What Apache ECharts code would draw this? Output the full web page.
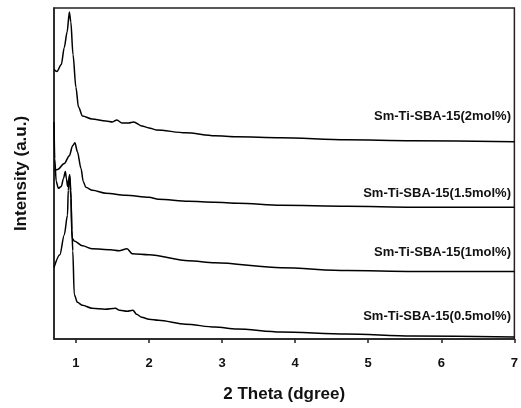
<!DOCTYPE html>
<html>
<head>
<meta charset="utf-8">
<script src="https://cdn.jsdelivr.net/npm/echarts@6/dist/echarts.min.js"></script>
<style>
  html, body { margin: 0; padding: 0; background: #fff; }
  #chart { width: 521px; height: 408px; }
</style>
</head>
<body>
<div id="chart"></div>
<script>
// 2 theta positions and intensities (a.u.)
const x2mol = [0.70, 0.74, 0.80, 0.84, 0.88, 0.91, 0.93, 0.96, 1.00, 1.035, 1.09, 1.22, 1.41, 1.50, 1.56, 1.63, 1.72, 1.79, 1.90, 2.00, 2.10, 2.5, 2.9, 3.2, 3.8, 4.7, 5.6, 7.0];
const y2mol = [272, 270, 277, 294, 310, 330, 320, 287, 254, 234, 225, 222, 220, 219, 221, 218, 218, 219, 215, 213, 211, 208, 205, 204, 203, 201, 200, 199];

const x15mol = [0.70, 0.75, 0.84, 0.91, 0.955, 0.986, 1.02, 1.07, 1.10, 1.136, 1.226, 1.41, 1.68, 2.0, 2.13, 2.54, 2.9, 3.22, 3.81, 4.71, 5.62, 7.0];
const y15mol = [170, 171, 177, 185, 195, 198, 189, 172, 159, 153, 150, 147, 145, 143, 141, 139, 138, 137, 135, 134, 133, 133];

const x1mol = [0.70, 0.71, 0.73, 0.76, 0.80, 0.83, 0.855, 0.87, 0.886, 0.90, 0.913, 0.932, 0.946, 0.977, 1.09, 1.225, 1.475, 1.59, 1.70, 1.77, 2.0, 2.54, 2.9, 3.81, 4.71, 5.62, 7.0];
const y1mol = [219, 182, 159, 152, 154, 162, 169, 162, 154, 160, 165, 142, 102, 99, 94, 91, 90, 89, 91, 86, 85, 79, 77, 72, 69, 68, 68];

const x05mol = [0.70, 0.78, 0.84, 0.885, 0.895, 0.915, 0.93, 0.945, 0.957, 0.977, 1.02, 1.09, 1.22, 1.40, 1.54, 1.60, 1.70, 1.78, 1.83, 1.90, 2.0, 2.13, 2.5, 2.9, 3.2, 3.8, 4.7, 5.6, 7.0];
const y05mol = [72, 85, 105, 125, 150, 166, 150, 110, 89, 45, 37, 34, 31, 30, 31, 29, 28, 29, 25, 22, 20, 19, 15, 12, 10, 7, 5, 3, 2];

const names = ['Sm-Ti-SBA-15(2mol%)', 'Sm-Ti-SBA-15(1.5mol%)', 'Sm-Ti-SBA-15(1mol%)', 'Sm-Ti-SBA-15(0.5mol%)'];
const xTicks = [1, 2, 3, 4, 5, 6, 7];

const pairs = (xs, ys) => xs.map((x, i) => [x, ys[i]]);
const curves = [pairs(x2mol, y2mol), pairs(x15mol, y15mol), pairs(x1mol, y1mol), pairs(x05mol, y05mol)];

const font = "'Liberation Sans', Arial, sans-serif";
const ink = '#111';

const chart = echarts.init(document.getElementById('chart'));
chart.setOption({
  animation: false,
  grid: { left: 54, right: 2.5, top: 8, bottom: 66, show: true, borderColor: '#222', borderWidth: 1.5 },
  xAxis: {
    type: 'value', min: 0.7, max: 7,
    name: '2 Theta (dgree)', nameLocation: 'middle', nameGap: 47,
    nameTextStyle: { fontFamily: font, fontWeight: 'bold', fontSize: 17, color: ink },
    axisLine: { lineStyle: { color: '#222', width: 1.5 } },
    axisTick: { customValues: xTicks, length: 4, lineStyle: { color: '#222', width: 1.5 } },
    axisLabel: { customValues: xTicks, margin: 18, fontFamily: font, fontWeight: 'bold', fontSize: 13, color: ink },
    splitLine: { show: false }
  },
  yAxis: {
    type: 'value', min: 0, max: 334,
    name: 'Intensity (a.u.)', nameLocation: 'middle', nameGap: 24,
    nameTextStyle: { fontFamily: font, fontWeight: 'bold', fontSize: 17, color: ink },
    axisLine: { show: true, lineStyle: { color: '#222', width: 1.5 } },
    axisTick: { show: false },
    axisLabel: { show: false },
    splitLine: { show: false }
  },
  series: curves.map((d, i) => ({
    name: names[i], type: 'line', data: d, showSymbol: false,
    smooth: 0.3, smoothMonotone: 'x',
    lineStyle: { color: '#000', width: 1.5 }
  })),
  graphic: [118, 195, 254, 318].map((y, i) => ({
    type: 'text', right: 10, top: y - 8,
    style: { text: names[i], font: 'bold 13px ' + font, fill: ink }
  }))
});
</script>
</body>
</html>
